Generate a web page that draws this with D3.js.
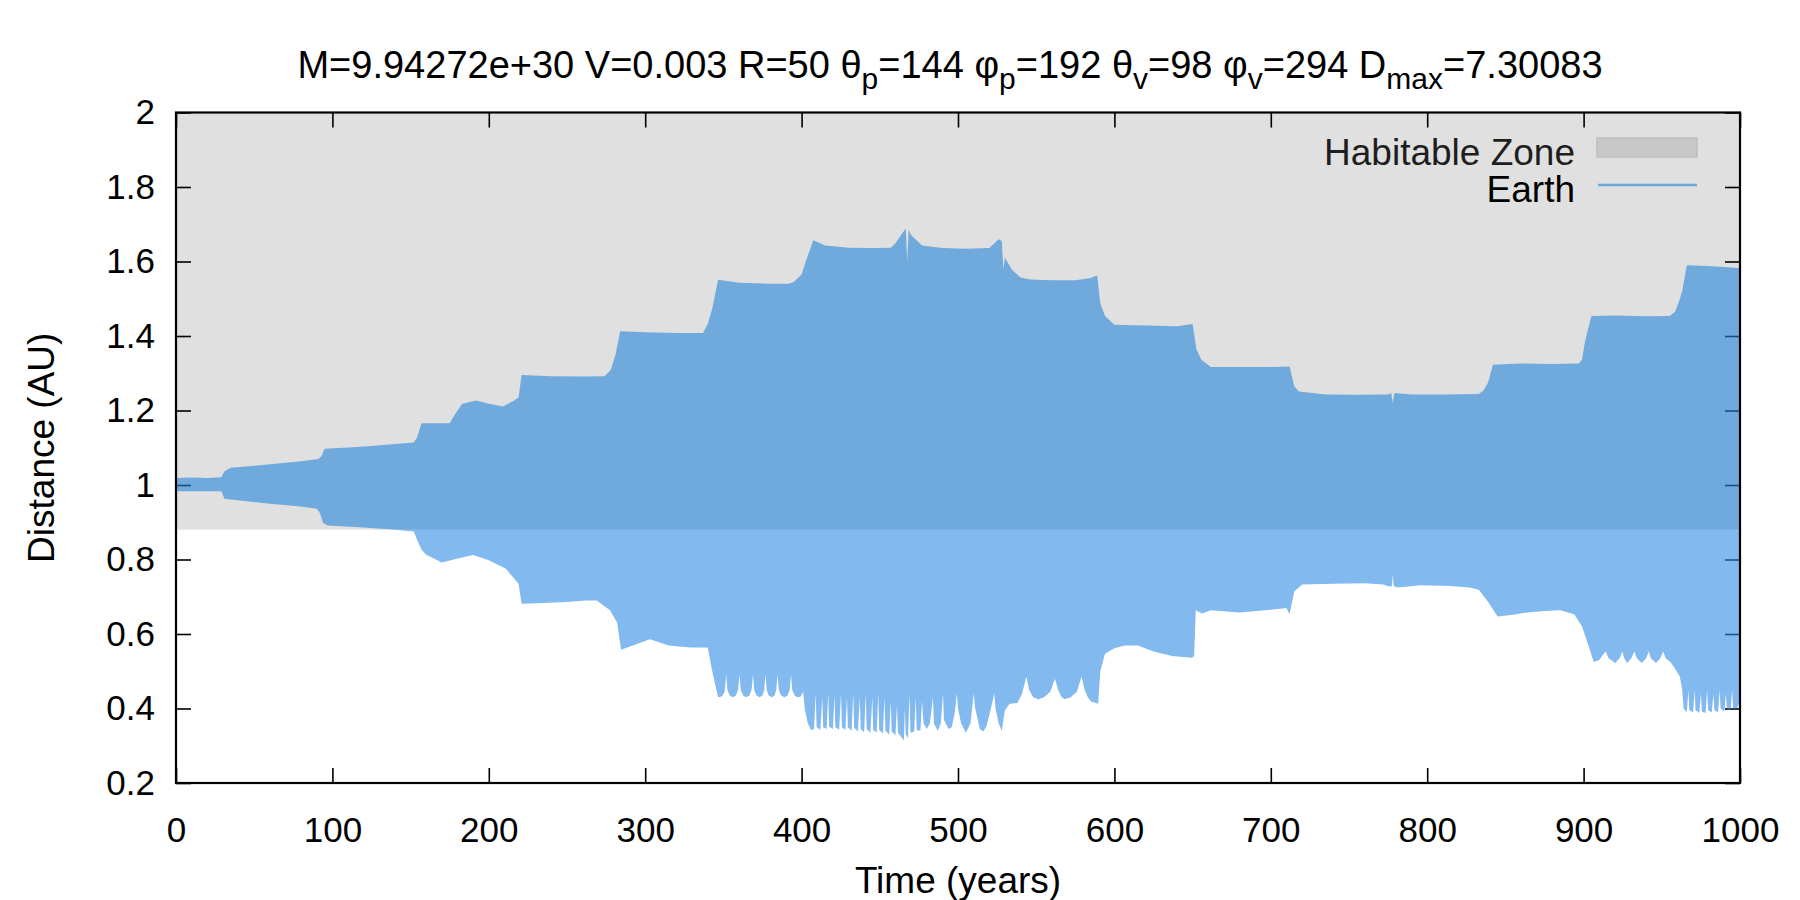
<!DOCTYPE html>
<html><head><meta charset="utf-8">
<script src="https://cdn.jsdelivr.net/npm/d3@7"></script>
<style>
body{margin:0;background:#fff}
svg{display:block}
text{font-family:"Liberation Sans",Arial,Helvetica,sans-serif}
</style>
</head><body>
<svg id="chart" width="1800" height="900"></svg>
<script>
// ---------- data ----------
const xTicks = [0,100,200,300,400,500,600,700,800,900,1000];
const yTicks = [0.2,0.4,0.6,0.8,1.0,1.2,1.4,1.6,1.8,2.0];
const yTickLabels = ["0.2","0.4","0.6","0.8","1","1.2","1.4","1.6","1.8","2"];
const hzRange = [0.88, 2.0];
const legendLabels = ["Habitable Zone","Earth"];

// upper envelope of Earth's distance (years, AU)
const upperTime = [0,10,20,29,31,35,50,65,80,91,93,95,110,125,140,152,154,157,165,175,178,183,192,200,209,216,219,221,240,260,274,278,281,284,300,320,337,340,343,346.6,360,380,392,395,400,403,407.5,415,430,445,457,460,464.6,466.6,467.5,468.5,470,477,490,505,520,526,528,529,530,534.6,540,546,560,575,585,589,591,594,600,620,640,650,652.4,655.5,661.6,680,700,712,715,718,735,755,775,777,778,779,790,810,833,836,839,842,860,880,897,899,901,905,920,940,955,958.5,961.5,963,966,980,990,1000];
const upperDist = [1.019,1.020,1.019,1.021,1.037,1.046,1.052,1.058,1.064,1.070,1.077,1.097,1.101,1.105,1.110,1.114,1.126,1.166,1.166,1.166,1.187,1.218,1.227,1.218,1.211,1.226,1.235,1.295,1.292,1.291,1.292,1.309,1.350,1.413,1.410,1.408,1.408,1.432,1.476,1.551,1.543,1.540,1.540,1.545,1.565,1.604,1.657,1.643,1.637,1.636,1.637,1.649,1.677,1.688,1.600,1.685,1.671,1.643,1.636,1.634,1.636,1.660,1.655,1.580,1.610,1.577,1.557,1.552,1.550,1.550,1.556,1.563,1.487,1.454,1.430,1.428,1.426,1.432,1.365,1.337,1.317,1.317,1.317,1.318,1.265,1.251,1.243,1.242,1.243,1.247,1.220,1.247,1.243,1.243,1.244,1.254,1.276,1.323,1.326,1.325,1.326,1.337,1.387,1.454,1.455,1.453,1.454,1.465,1.499,1.520,1.590,1.588,1.585,1.582];

// lower envelope of Earth's distance (years, AU)
const lowerTime = [0,29,31,35,60,80,90,92,94,97,120,140,152,155,157,160,170,180,190,200,211,217.5,219,221,235,250,262,269,277.5,282,284.6,292,303,315,329,340,343,346.6,349,350.8,351.8,352.6,354,356,358,359.4,360.3,361.1,362.6,364.6,366.6,368,368.9,369.7,371.2,373.2,375,376.1,376.9,377.7,379,380.9,382.7,383.8,384.6,385.4,386.9,388.9,391,392.4,393.2,394,395.5,397.5,399.5,401,402,404,406,408,409,409.6,412,413.2,413.8,416,417,417.6,420,421,421.6,424,425.2,425.8,428,429,429.6,432,433,433.6,436,437.2,437.8,440,441,441.6,444,445.2,445.8,448,449,449.6,452,453,453.6,456,457,457.6,460,461,461.6,464,465.4,466,466.6,468,469,469.6,472,473,473.6,476,477,478,480,482,484,484.6,487,489,490.4,491,494,496,498,499.2,500,502,505,508,510,511,514,516,518,520.5,523.2,524,526,528,530,533,538,541,543.7,545.5,548,551.4,555,559,562,564,566,568,572,576,579,581,583,585,589.6,591,594,600,606.5,615,625,637,649.3,651,652,656,661.6,680,700,710,712,715,720,740,760,772,775,777.5,778,778.6,781,796,815,827,833,839,845,855,864,875,885,894,899,903.5,906.5,910,912.5,914.1,916,920.2,923,924.8,926,927.9,930.5,932.5,934,937.1,940,941.7,943,946.3,949,950.9,952.5,955.5,958,961.5,963,964,966,967,967.6,970,971,971.6,974,975,975.6,978,979,979.6,982,983,983.6,986,987,987.6,990,991,991.6,994,995,995.6,998,1000];
const lowerDist = [0.983,0.983,0.963,0.961,0.950,0.942,0.936,0.925,0.898,0.891,0.886,0.880,0.875,0.844,0.826,0.813,0.792,0.803,0.812,0.798,0.775,0.742,0.735,0.681,0.683,0.686,0.690,0.690,0.664,0.631,0.558,0.569,0.586,0.569,0.564,0.564,0.497,0.430,0.432,0.445,0.491,0.450,0.435,0.430,0.435,0.450,0.491,0.450,0.435,0.430,0.435,0.450,0.491,0.450,0.435,0.430,0.435,0.450,0.491,0.450,0.435,0.430,0.435,0.450,0.491,0.450,0.435,0.430,0.435,0.450,0.491,0.450,0.435,0.430,0.432,0.445,0.400,0.360,0.342,0.345,0.440,0.350,0.343,0.430,0.350,0.345,0.440,0.352,0.345,0.435,0.350,0.343,0.440,0.350,0.342,0.430,0.350,0.340,0.440,0.348,0.338,0.430,0.345,0.336,0.440,0.345,0.335,0.430,0.342,0.335,0.440,0.342,0.333,0.430,0.340,0.330,0.420,0.338,0.328,0.410,0.335,0.322,0.315,0.400,0.330,0.320,0.440,0.335,0.338,0.430,0.342,0.340,0.420,0.360,0.345,0.360,0.430,0.360,0.340,0.360,0.440,0.370,0.345,0.350,0.390,0.440,0.400,0.360,0.335,0.360,0.440,0.400,0.345,0.338,0.350,0.390,0.440,0.400,0.360,0.340,0.395,0.413,0.415,0.440,0.486,0.450,0.430,0.425,0.430,0.445,0.480,0.450,0.432,0.425,0.430,0.445,0.486,0.450,0.430,0.419,0.413,0.500,0.547,0.562,0.569,0.569,0.553,0.541,0.536,0.540,0.664,0.655,0.664,0.658,0.665,0.670,0.653,0.714,0.733,0.735,0.736,0.733,0.728,0.728,0.760,0.728,0.725,0.731,0.729,0.725,0.719,0.686,0.647,0.652,0.658,0.662,0.664,0.653,0.620,0.564,0.525,0.530,0.545,0.553,0.535,0.522,0.535,0.553,0.535,0.522,0.535,0.553,0.535,0.522,0.535,0.553,0.535,0.522,0.535,0.553,0.535,0.525,0.510,0.486,0.452,0.400,0.390,0.450,0.395,0.390,0.450,0.395,0.388,0.440,0.392,0.388,0.450,0.395,0.390,0.440,0.395,0.390,0.450,0.400,0.392,0.440,0.400,0.395,0.450,0.400,0.400,0.420];

if (upperTime.length !== upperDist.length) throw new Error("upper length mismatch");
if (lowerTime.length !== lowerDist.length) throw new Error("lower length mismatch");

// ---------- drawing ----------
const W = 1800, H = 900;
const pL = 176, pR = 1740, pT = 112.5, pB = 783;
const svg = d3.select("#chart");
const x = d3.scaleLinear().domain([0,1000]).range([pL,pR]);
const y = d3.scaleLinear().domain([0.2,2.0]).range([pB,pT]);

svg.append("rect").attr("width",W).attr("height",H).attr("fill","#fff");

// habitable zone
svg.append("rect")
  .attr("x",x(0)).attr("width",x(1000)-x(0))
  .attr("y",y(hzRange[1])).attr("height",y(hzRange[0])-y(hzRange[1]))
  .attr("fill","#e0e0e0");

// axes (ticks inward on all sides)
const fontTick = 35;
const axB = svg.append("g").attr("transform",`translate(0,${pB})`)
  .call(d3.axisBottom(x).tickValues(xTicks).tickFormat(d3.format("d")).tickSizeInner(-15).tickSizeOuter(0).tickPadding(34));
const axT = svg.append("g").attr("transform",`translate(0,${pT})`)
  .call(d3.axisTop(x).tickValues(xTicks).tickFormat("").tickSizeInner(-15).tickSizeOuter(0));
const axL = svg.append("g").attr("transform",`translate(${pL},0)`)
  .call(d3.axisLeft(y).tickValues(yTicks).tickFormat((d,i)=>yTickLabels[i]).tickSizeInner(-15).tickSizeOuter(0).tickPadding(21));
const axR = svg.append("g").attr("transform",`translate(${pR},0)`)
  .call(d3.axisRight(y).tickValues(yTicks).tickFormat("").tickSizeInner(-15).tickSizeOuter(0));
[axB,axT,axL,axR].forEach(a=>{
  a.select(".domain").remove();
  a.selectAll(".tick line").attr("stroke","#000").attr("stroke-width",1.6);
  a.selectAll(".tick text").attr("font-size",fontTick).attr("fill","#000")
   .attr("font-family","'Liberation Sans',Arial,Helvetica,sans-serif");
});

// Earth distance band
const upperPts = upperTime.map((t,i)=>[t,upperDist[i]]);
const lowerPts = lowerTime.map((t,i)=>[t,lowerDist[i]]).reverse();
const bandLine = d3.line().x(d=>x(d[0])).y(d=>y(d[1])).curve(d3.curveLinear);
const bandPath = bandLine(upperPts.concat(lowerPts)) + "Z";

const defs = svg.append("defs");
defs.append("clipPath").attr("id","clipHZ").append("rect")
  .attr("x",pL).attr("width",pR-pL).attr("y",y(hzRange[1])).attr("height",y(hzRange[0])-y(hzRange[1]));
defs.append("clipPath").attr("id","clipLow").append("rect")
  .attr("x",pL).attr("width",pR-pL).attr("y",y(hzRange[0])).attr("height",y(0.2)-y(hzRange[0]));

svg.append("path").attr("d",bandPath).attr("clip-path","url(#clipHZ)")
  .attr("fill","rgb(36,134,217)").attr("fill-opacity",0.6);
svg.append("path").attr("d",bandPath).attr("clip-path","url(#clipLow)")
  .attr("fill","rgb(47,138,227)").attr("fill-opacity",0.6);

// frame
svg.append("rect").attr("x",pL).attr("y",pT).attr("width",pR-pL).attr("height",pB-pT)
  .attr("fill","none").attr("stroke","#000").attr("stroke-width",2.2);

// title
const title = svg.append("text").attr("x",(pL+pR)/2-8).attr("y",78)
  .attr("text-anchor","middle").attr("font-size",38).attr("fill","#000");
const parts = [["M=9.94272e+30 V=0.003 R=50 θ",""],["p","sub"],["=144 φ",""],["p","sub"],["=192 θ",""],["v","sub"],["=98 φ",""],["v","sub"],["=294 D",""],["max","sub"],["=7.30083",""]];
let prevSub = false;
parts.forEach(([s,k])=>{
  const ts = title.append("tspan").text(s);
  if(k==="sub"){ ts.attr("dy",11).attr("font-size",30); prevSub = true; }
  else if(prevSub){ ts.attr("dy",-11); prevSub = false; }
});

// axis titles
svg.append("text").attr("x",(pL+pR)/2).attr("y",893).attr("text-anchor","middle")
  .attr("font-size",37).attr("fill","#000").text("Time (years)");
svg.append("text").attr("transform",`translate(54,${(pT+pB)/2}) rotate(-90)`)
  .attr("text-anchor","middle").attr("font-size",37).attr("fill","#000").text("Distance (AU)");

// legend
const lg = svg.append("g");
lg.append("text").attr("x",1575).attr("y",165).attr("text-anchor","end").attr("font-size",37)
  .attr("fill","#1e1e1e").text(legendLabels[0]);
lg.append("text").attr("x",1575).attr("y",202).attr("text-anchor","end").attr("font-size",37)
  .attr("fill","#000").text(legendLabels[1]);
lg.append("rect").attr("x",1597).attr("y",138).attr("width",100).attr("height",19)
  .attr("fill","#c8c8c8").attr("stroke","#bdbdbd").attr("stroke-width",1.5);
lg.append("line").attr("x1",1598).attr("x2",1697).attr("y1",185).attr("y2",185)
  .attr("stroke","#6fa8dc").attr("stroke-width",2.5);
</script>
</body></html>
